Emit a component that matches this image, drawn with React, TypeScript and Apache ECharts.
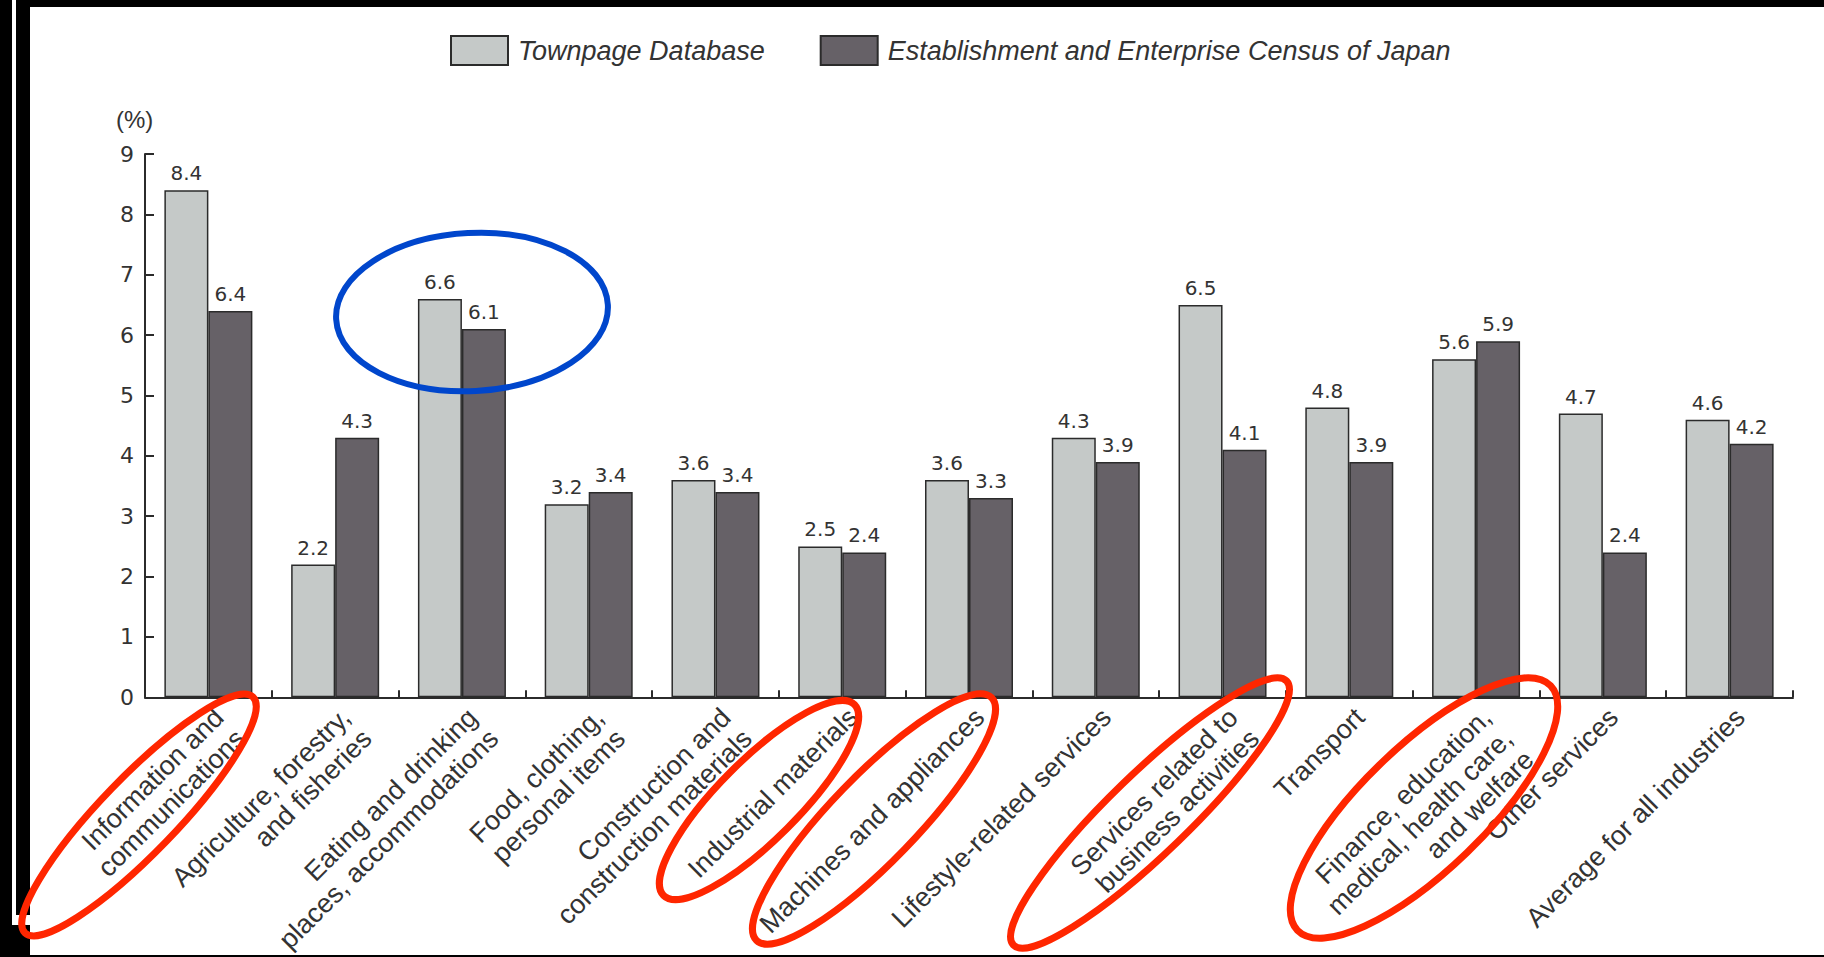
import React, { useEffect, useRef } from "react";
import * as echarts from "echarts";

const categories = [
  "Information and\ncommunications",
  "Agriculture, forestry,\nand fisheries",
  "Eating and drinking\nplaces, accommodations",
  "Food, clothing,\npersonal items",
  "Construction and\nconstruction materials",
  "Industrial materials",
  "Machines and appliances",
  "Lifestyle-related services",
  "Services related to\nbusiness activities",
  "Transport",
  "Finance, education,\nmedical, health care,\nand welfare",
  "Other services",
  "Average for all industries",
];
const townpage = [8.4, 2.2, 6.6, 3.2, 3.6, 2.5, 3.6, 4.3, 6.5, 4.8, 5.6, 4.7, 4.6];
const census = [6.4, 4.3, 6.1, 3.4, 3.4, 2.4, 3.3, 3.9, 4.1, 3.9, 5.9, 2.4, 4.2];
const yTicks = [0, 1, 2, 3, 4, 5, 6, 7, 8, 9];
const seriesNames = ["Townpage Database", "Establishment and Enterprise Census of Japan"];
const unitLabel = "(%)";

const TXT = "#333333";
const NUM_FONT = "DejaVu Sans";
const FONT = "Liberation Sans, Arial, sans-serif";

export default function App() {
  const ref = useRef<HTMLDivElement>(null);
  useEffect(() => {
    if (!ref.current) return;
    const chart = echarts.init(ref.current, undefined, { renderer: "svg" });
    const red = "#ff2600";
    const blue = "#0046cc";
    const ell = (cx: number, cy: number, rx: number, ry: number, deg: number, color: string, w: number) => ({
      type: "ellipse",
      x: cx,
      y: cy,
      rotation: (deg * Math.PI) / 180,
      shape: { cx: 0, cy: 0, rx, ry },
      style: { fill: "none", stroke: color, lineWidth: w },
      z: 100,
    });
    const option: any = {
      animation: false,
      backgroundColor: "#ffffff",
      textStyle: { fontFamily: FONT },
      legend: {
        left: 445,
        top: 30,
        itemWidth: 57,
        itemHeight: 29,
        itemGap: 55,
        icon: "rect",
        data: seriesNames,
        itemStyle: { borderColor: "#2b2b2b", borderWidth: 2 },
        textStyle: { fontSize: 27, fontStyle: "italic", color: TXT, fontFamily: FONT, padding: [0, 0, 0, 5] },
      },
      grid: { left: 145, right: 31, top: 154, bottom: 258, containLabel: false },
      xAxis: {
        type: "category",
        data: categories,
        boundaryGap: true,
        axisLine: { show: true, lineStyle: { color: "#2b2b2b", width: 2 } },
        axisTick: { show: true, inside: true, length: 7, lineStyle: { color: "#2b2b2b", width: 2 } },
        axisLabel: {
          interval: 0,
          rotate: 45,
          margin: 5,
          fontSize: 27,
          lineHeight: 30,
          color: TXT,
          fontFamily: FONT,
          align: "right",
          verticalAlign: "top",
        },
      },
      yAxis: {
        type: "value",
        min: 0,
        max: 9,
        interval: 1,
        splitLine: { show: false },
        axisLine: { show: true, lineStyle: { color: "#2b2b2b", width: 2 } },
        axisTick: { show: true, inside: true, length: 9, lineStyle: { color: "#2b2b2b", width: 2 } },
        axisLabel: {
          margin: 11,
          fontSize: 22,
          color: TXT,
          fontFamily: NUM_FONT,
          formatter: (v: number) => (yTicks.includes(v) ? String(v) : ""),
        },
      },
      series: [
        {
          name: seriesNames[0],
          type: "bar",
          data: townpage,
          barWidth: 44,
          barGap: "0%",
          itemStyle: { color: "#c5c9c8", borderColor: "#2b2b2b", borderWidth: 1.5 },
          label: { show: true, position: "top", distance: 7, fontSize: 20, color: TXT, fontFamily: NUM_FONT, formatter: (p: any) => p.value.toFixed(1) },
        },
        {
          name: seriesNames[1],
          type: "bar",
          data: census,
          barWidth: 44,
          barGap: "0%",
          itemStyle: { color: "#666167", borderColor: "#2b2b2b", borderWidth: 1.5 },
          label: { show: true, position: "top", distance: 7, fontSize: 20, color: TXT, fontFamily: NUM_FONT, formatter: (p: any) => p.value.toFixed(1) },
        },
      ],
      graphic: [
        { type: "text", left: 116, top: 107, style: { text: unitLabel, fontSize: 24, fill: TXT, fontFamily: FONT } },
        // frame artefacts
        { type: "rect", shape: { x: 0, y: 0, width: 12, height: 957 }, style: { fill: "#000" }, z: 50 },
        { type: "rect", shape: { x: 16, y: 0, width: 14, height: 915 }, style: { fill: "#000" }, z: 50 },
        { type: "rect", shape: { x: 0, y: 925, width: 30, height: 32 }, style: { fill: "#000" }, z: 50 },
        { type: "rect", shape: { x: 30, y: 0, width: 1794, height: 7 }, style: { fill: "#000" }, z: 50 },
        { type: "rect", shape: { x: 0, y: 955, width: 1824, height: 2 }, style: { fill: "#000" }, z: 50 },
        // annotations
        ell(139, 815, 164, 38, 46, red, 7),
        ell(759, 800, 135, 40, 45, red, 7),
        ell(874, 819, 169, 43, 46, red, 7),
        ell(1150, 813, 190, 40, 44, red, 7),
        ell(1424, 808, 176, 62, 44, red, 7),
        ell(472, 312, 136, 79, 3, blue, 6),
      ],
    };
    chart.setOption(option);
    return () => chart.dispose();
  }, []);
  return (
    <div
      ref={ref}
      style={{ position: "fixed", left: 0, top: 0, width: 1824, height: 957, background: "#fff" }}
    />
  );
}
